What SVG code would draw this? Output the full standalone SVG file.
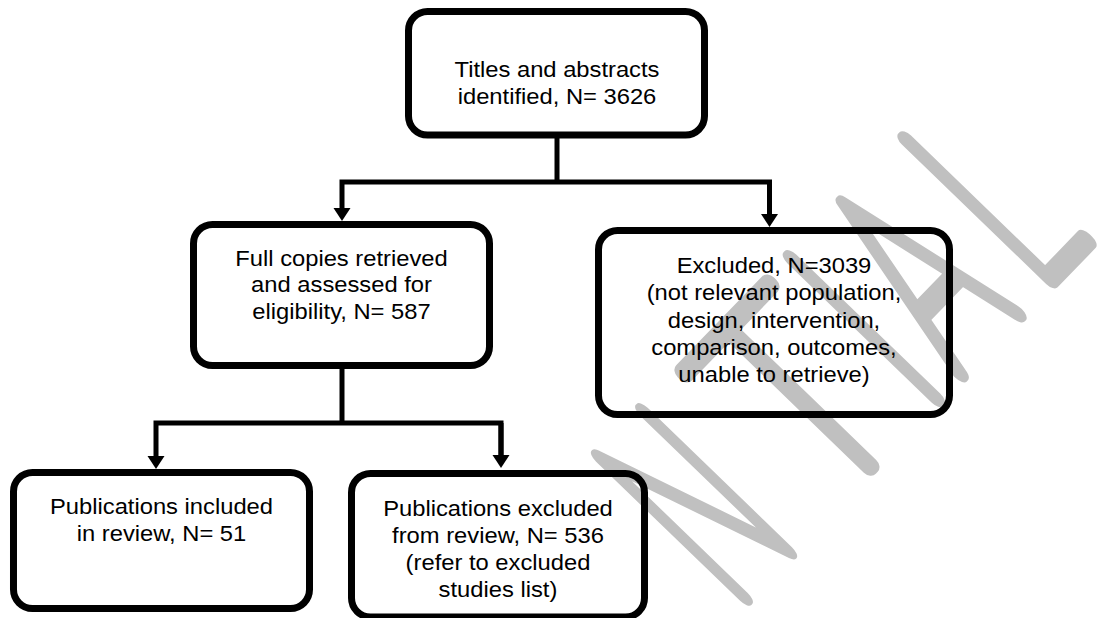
<svg xmlns="http://www.w3.org/2000/svg" width="1102" height="618" viewBox="0 0 1102 618">
<style>
.box{fill:none;stroke:#000;stroke-width:7}
.con{fill:none;stroke:#000;stroke-width:5;stroke-linejoin:miter}
.t{font-family:"Liberation Sans",Arial,sans-serif;font-size:22px;fill:#000;text-anchor:middle}
.wm{font-family:Lato,"Liberation Sans",sans-serif;font-weight:100;font-size:286px;fill:#c0c0c0;stroke:#c0c0c0;stroke-width:17;stroke-linejoin:round;stroke-linecap:round;text-anchor:middle}
</style>
<defs>
<marker id="ah" markerUnits="userSpaceOnUse" markerWidth="14" markerHeight="18" refX="3" refY="8.5" orient="auto" overflow="visible">
<path d="M0,0 L13,8.5 L0,17 z" fill="#000"/>
</marker>
</defs>
<rect width="1102" height="618" fill="#fff"/>
<g id="watermark" transform="translate(1047,283) rotate(-46)">
<text class="wm" vector-effect="non-scaling-stroke" transform="translate(-404.5,0) scale(0.44,1)">N</text>
<text class="wm" vector-effect="non-scaling-stroke" transform="translate(-255,0) scale(0.8,1)">T</text>
<text class="wm" vector-effect="non-scaling-stroke" transform="translate(-160,0) scale(0.5,1)">I</text>
<text class="wm" vector-effect="non-scaling-stroke" transform="translate(-84,0) scale(0.5,1)">A</text>
<text class="wm" vector-effect="non-scaling-stroke" style="text-anchor:start" transform="translate(-13,0) scale(0.52,1)">L</text>
</g>
<g id="connectors">
<path class="con" d="M557,135 V182"/>
<path class="con" d="M769.5,211 V182 H342 V211" marker-end="url(#ah)"/>
<path class="con" d="M769.5,182 V217" marker-end="url(#ah)"/>
<path class="con" d="M342,365 V423"/>
<path class="con" d="M501,458 V423 H156 V459" marker-end="url(#ah)"/>
<path class="con" d="M501,423 V458" marker-end="url(#ah)"/>
</g>
<g id="n1">
<rect class="box" x="408.5" y="11.5" width="296" height="123.5" rx="19"/>
<g transform="matrix(1.08 0 0 1 -44.56 0)"><text class="t" x="557" y="77">Titles and abstracts</text><text class="t" x="557" y="104">identified, N= 3626</text></g>
</g>
<g id="n2">
<rect class="box" x="193.5" y="224.5" width="296" height="141" rx="19"/>
<g transform="matrix(1.08 0 0 1 -27.32 0)"><text class="t" x="341.5" y="266">Full copies retrieved</text><text class="t" x="341.5" y="292.5">and assessed for</text><text class="t" x="341.5" y="319">eligibility, N= 587</text></g>
</g>
<g id="n3">
<rect class="box" x="598.5" y="230.5" width="351" height="184" rx="19"/>
<g transform="matrix(1.08 0 0 1 -61.92 0)"><text class="t" x="774" y="273">Excluded, N=3039</text><text class="t" x="774" y="300.3">(not relevant population,</text><text class="t" x="774" y="327.6">design, intervention,</text><text class="t" x="774" y="354.9">comparison, outcomes,</text><text class="t" x="774" y="382.2">unable to retrieve)</text></g>
</g>
<g id="n4">
<rect class="box" x="13.5" y="472.5" width="296" height="136" rx="19"/>
<g transform="matrix(1.08 0 0 1 -12.92 0)"><text class="t" x="161.5" y="514.5">Publications included</text><text class="t" x="161.5" y="541.5">in review, N= 51</text></g>
</g>
<g id="n5">
<rect class="box" x="351.5" y="473.5" width="293" height="143.5" rx="19"/>
<g transform="matrix(1.08 0 0 1 -39.84 0)"><text class="t" x="498" y="516">Publications excluded</text><text class="t" x="498" y="543">from review, N= 536</text><text class="t" x="498" y="570">(refer to excluded</text><text class="t" x="498" y="597">studies list)</text></g>
</g>
</svg>
